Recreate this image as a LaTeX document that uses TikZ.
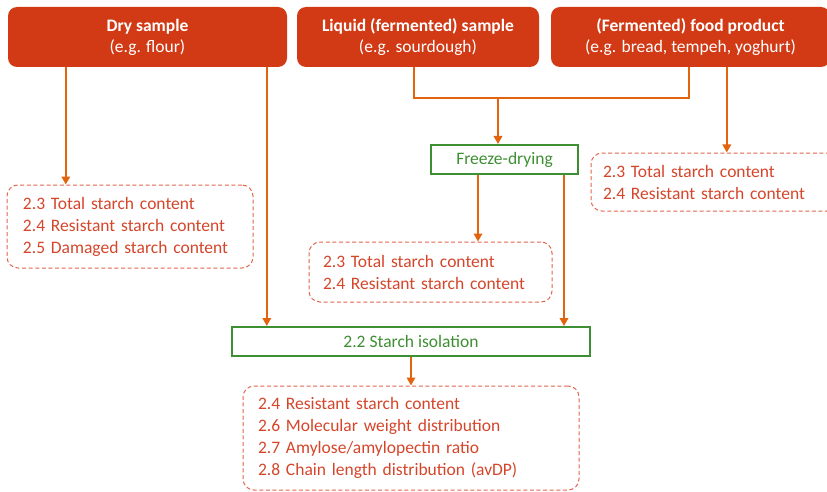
\documentclass[tikz,border=0pt]{standalone}
\usepackage{fontspec}
\setmainfont{Carlito}
\usetikzlibrary{arrows.meta}
\definecolor{headred}{HTML}{D13A15}
\definecolor{listred}{HTML}{D4452A}
\definecolor{dashred}{HTML}{E0664E}
\definecolor{connor}{HTML}{E2640E}
\definecolor{stepgreen}{HTML}{3E8E33}
\tikzset{
  head/.style={draw=none, fill=headred, rounded corners=9pt, text=white, align=center,
    font=\fontsize{17.5}{21}\selectfont, inner sep=0pt},
  greenbox/.style={draw=stepgreen, line width=2pt, text=stepgreen, align=center,
    font=\fontsize{17.5}{21}\selectfont, inner sep=0pt},
  listbox/.style={draw=dashred, line width=1pt, dash pattern=on 4pt off 2.6pt,
    rounded corners=11pt, text=listred, align=left, inner ysep=0pt,
    font=\fontsize{17.5}{22}\selectfont},
  link/.style={draw=connor, line width=1.8pt},
  arr/.style={link, -{Triangle[length=8pt,width=8.5pt]}},
}
\begin{document}
\begin{tikzpicture}[x=1pt,y=-1pt]
\useasboundingbox (0,0) rectangle (827,492);

% source samples
\node[head, minimum width=279pt, minimum height=60pt] (dry) at (147.5,37)
  {\textbf{Dry sample}\\(e.g. flour)};
\node[head, minimum width=242pt, minimum height=60pt] (liq) at (418,37)
  {\textbf{Liquid (fermented) sample}\\(e.g. sourdough)};
\node[head, minimum width=279pt, minimum height=60pt] (food) at (690.5,37)
  {\textbf{(Fermented) food product}\\(e.g. bread, tempeh, yoghurt)};

% processing steps
\node[greenbox, minimum width=147pt, minimum height=29pt] (freeze) at (504.5,159.5) {Freeze-drying};
\node[greenbox, minimum width=358pt, minimum height=29pt] (starch) at (411,341.5) {2.2 Starch isolation};

% analyses
\node[listbox, inner xsep=16pt, text width=214pt, minimum height=83pt] (dryl) at (130,226.5)
  {2.3 Total starch content\\2.4 Resistant starch content\\2.5 Damaged starch content};
\node[listbox, inner xsep=14pt, text width=215pt, minimum height=60pt] (midl) at (430.5,272)
  {2.3 Total starch content\\2.4 Resistant starch content};
\node[listbox, inner xsep=12pt, text width=226pt, minimum height=58pt] (foodl) at (716,182)
  {2.3 Total starch content\\2.4 Resistant starch content};
\node[listbox, inner xsep=15pt, text width=306pt, minimum height=104pt] (botl) at (411,438)
  {2.4 Resistant starch content\\2.6 Molecular weight distribution\\2.7 Amylose/amylopectin ratio\\2.8 Chain length distribution (avDP)};

% connectors
\draw[arr] ([xshift=58pt]dry.south west) coordinate (d1) -- (d1 |- dryl.north);
\draw[arr] ([xshift=259pt]dry.south west) coordinate (d2) -- (d2 |- starch.north);
\draw[link] ([xshift=117pt]liq.south west) coordinate (l1) -- ++(0,31) coordinate (bar)
  -| ([xshift=138pt]food.south west);
\draw[arr] ([xshift=-6.5pt]freeze.north |- bar) -- ([xshift=-6.5pt]freeze.north);
\draw[arr] ([xshift=176pt]food.south west) coordinate (f1) -- (f1 |- foodl.north);
\draw[arr] ([xshift=48pt]freeze.south west) coordinate (z1) -- (z1 |- midl.north);
\draw[arr] ([xshift=-15pt]freeze.south east) coordinate (z2) -- (z2 |- starch.north);
\draw[arr] (starch.south) -- (botl.north);
\end{tikzpicture}
\end{document}
